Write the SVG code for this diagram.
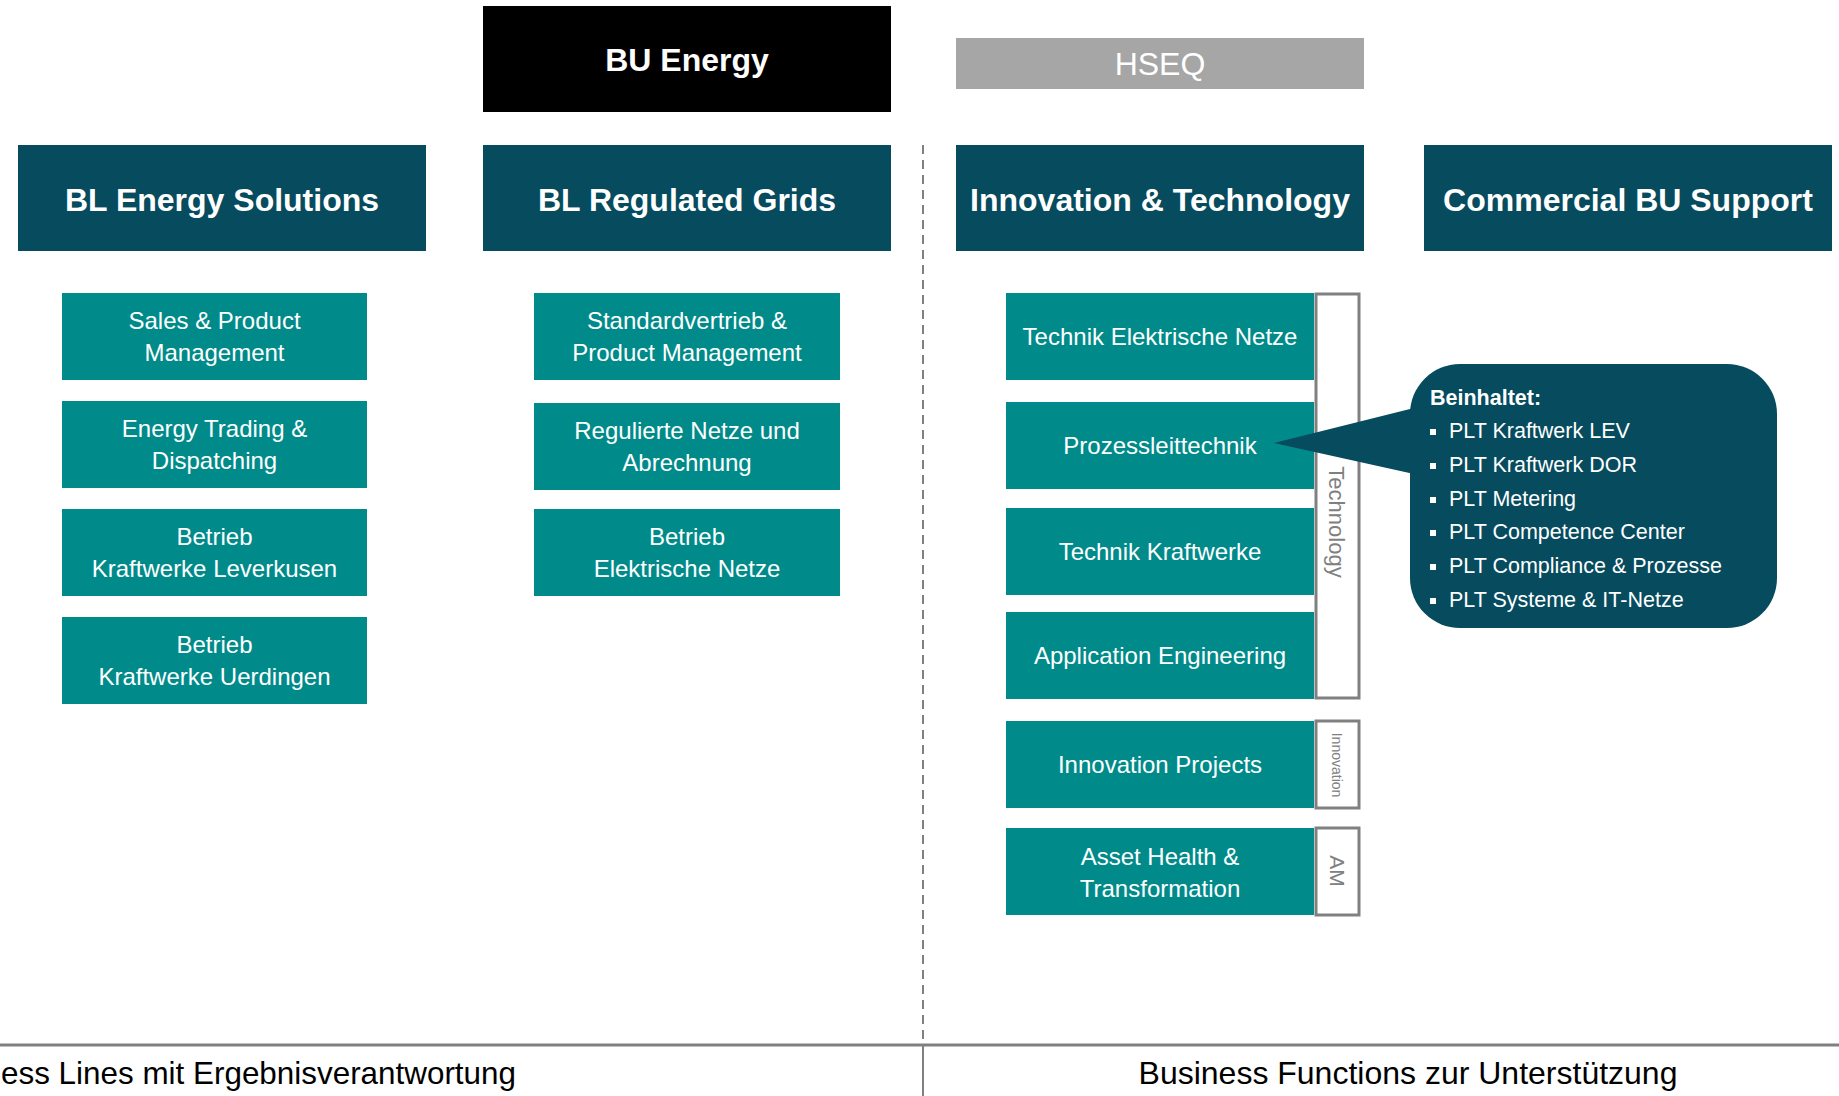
<svg xmlns="http://www.w3.org/2000/svg" width="1839" height="1096" viewBox="0 0 1839 1096">
<style>
text{font-family:"Liberation Sans",Arial,sans-serif}
.hdr{fill:#064b5e}
.sub{fill:#008b8a}
.ht{fill:#fff;font-size:32px;font-weight:bold;text-anchor:middle}
.st{fill:#fff;font-size:24px;text-anchor:middle}
.br{fill:#fff;stroke:#808080;stroke-width:3}
.vl{fill:#808080;text-anchor:middle}
.ct{fill:#fff;font-size:21.5px}
.bt{fill:#000;font-size:32px}
.ln{stroke:#808080;fill:none}
</style>
<rect width="1839" height="1096" fill="#fff"/>

<g id="connectors">
<line class="ln" x1="923" y1="145" x2="923" y2="1044" stroke-width="2" stroke-dasharray="9 6"/>
<line class="ln" x1="923" y1="1044" x2="923" y2="1096" stroke-width="2"/>
<line class="ln" x1="0" y1="1045" x2="1839" y2="1045" stroke-width="3"/>
</g>

<g id="bu-energy">
<rect x="483" y="6" width="408" height="106" fill="#000"/>
<text class="ht" x="687" y="71">BU Energy</text>
</g>
<g id="hseq">
<rect x="956" y="38" width="408" height="51" fill="#a6a6a6"/>
<text x="1160" y="75" fill="#fff" font-size="32" text-anchor="middle">HSEQ</text>
</g>

<g id="bl-energy-solutions">
<rect class="hdr" x="18" y="145" width="408" height="106"/>
<text class="ht" x="222" y="211">BL Energy Solutions</text>
</g>
<g id="bl-regulated-grids">
<rect class="hdr" x="483" y="145" width="408" height="106"/>
<text class="ht" x="687" y="211">BL Regulated Grids</text>
</g>
<g id="innovation-technology">
<rect class="hdr" x="956" y="145" width="408" height="106"/>
<text class="ht" x="1160" y="211">Innovation &amp; Technology</text>
</g>
<g id="commercial-bu-support">
<rect class="hdr" x="1424" y="145" width="408" height="106"/>
<text class="ht" x="1628" y="211">Commercial BU Support</text>
</g>

<g id="sales-product">
<rect class="sub" x="62" y="293" width="305" height="87"/>
<text class="st" x="214.5" y="329">Sales &amp; Product</text>
<text class="st" x="214.5" y="361">Management</text>
</g>
<g id="energy-trading">
<rect class="sub" x="62" y="401" width="305" height="87"/>
<text class="st" x="214.5" y="437">Energy Trading &amp;</text>
<text class="st" x="214.5" y="469">Dispatching</text>
</g>
<g id="betrieb-leverkusen">
<rect class="sub" x="62" y="509" width="305" height="87"/>
<text class="st" x="214.5" y="545">Betrieb</text>
<text class="st" x="214.5" y="577">Kraftwerke Leverkusen</text>
</g>
<g id="betrieb-uerdingen">
<rect class="sub" x="62" y="617" width="305" height="87"/>
<text class="st" x="214.5" y="653">Betrieb</text>
<text class="st" x="214.5" y="685">Kraftwerke Uerdingen</text>
</g>

<g id="standardvertrieb">
<rect class="sub" x="534" y="293" width="306" height="87"/>
<text class="st" x="687" y="329">Standardvertrieb &amp;</text>
<text class="st" x="687" y="361">Product Management</text>
</g>
<g id="regulierte-netze">
<rect class="sub" x="534" y="403" width="306" height="87"/>
<text class="st" x="687" y="439">Regulierte Netze und</text>
<text class="st" x="687" y="471">Abrechnung</text>
</g>
<g id="betrieb-netze">
<rect class="sub" x="534" y="509" width="306" height="87"/>
<text class="st" x="687" y="545">Betrieb</text>
<text class="st" x="687" y="577">Elektrische Netze</text>
</g>

<g id="technology-bracket">
<rect class="br" x="1316" y="294" width="43" height="404"/>
<text class="vl" font-size="22" transform="translate(1329,522) rotate(90)">Technology</text>
</g>
<g id="innovation-bracket">
<rect class="br" x="1316" y="721" width="43" height="87"/>
<text class="vl" font-size="14" transform="translate(1332,765) rotate(90)">Innovation</text>
</g>
<g id="am-bracket">
<rect class="br" x="1316" y="828" width="43" height="87"/>
<text class="vl" font-size="21" transform="translate(1330,871) rotate(90)">AM</text>
</g>

<g id="technik-elektrische-netze">
<rect class="sub" x="1006" y="293" width="308" height="87"/>
<text class="st" x="1160" y="345">Technik Elektrische Netze</text>
</g>
<g id="prozessleittechnik">
<rect class="sub" x="1006" y="402" width="308" height="87"/>
<text class="st" x="1160" y="454">Prozessleittechnik</text>
</g>
<g id="technik-kraftwerke">
<rect class="sub" x="1006" y="508" width="308" height="87"/>
<text class="st" x="1160" y="560">Technik Kraftwerke</text>
</g>
<g id="application-engineering">
<rect class="sub" x="1006" y="612" width="308" height="87"/>
<text class="st" x="1160" y="664">Application Engineering</text>
</g>
<g id="innovation-projects">
<rect class="sub" x="1006" y="721" width="308" height="87"/>
<text class="st" x="1160" y="773">Innovation Projects</text>
</g>
<g id="asset-health">
<rect class="sub" x="1006" y="828" width="308" height="87"/>
<text class="st" x="1160" y="865">Asset Health &amp;</text>
<text class="st" x="1160" y="897">Transformation</text>
</g>

<g id="callout">
<rect class="hdr" x="1410" y="364" width="367" height="264" rx="50" ry="50"/>
<polygon class="hdr" points="1274,443 1414,408 1414,474"/>
<text class="ct" x="1430" y="405" font-weight="bold">Beinhaltet:</text>
<g fill="#fff">
<rect x="1430" y="429" width="6" height="6"/>
<rect x="1430" y="463" width="6" height="6"/>
<rect x="1430" y="497" width="6" height="6"/>
<rect x="1430" y="530" width="6" height="6"/>
<rect x="1430" y="564" width="6" height="6"/>
<rect x="1430" y="598" width="6" height="6"/>
</g>
<text class="ct" x="1449" y="438">PLT Kraftwerk LEV</text>
<text class="ct" x="1449" y="472">PLT Kraftwerk DOR</text>
<text class="ct" x="1449" y="506">PLT Metering</text>
<text class="ct" x="1449" y="539">PLT Competence Center</text>
<text class="ct" x="1449" y="573">PLT Compliance &amp; Prozesse</text>
<text class="ct" x="1449" y="607">PLT Systeme &amp; IT-Netze</text>
</g>

<g id="footer-left">
<text class="bt" x="1" y="1084" textLength="515" lengthAdjust="spacingAndGlyphs">ess Lines mit Ergebnisverantwortung</text>
</g>
<g id="footer-right">
<text class="bt" x="1408" y="1084" text-anchor="middle">Business Functions zur Unterstützung</text>
</g>
</svg>
